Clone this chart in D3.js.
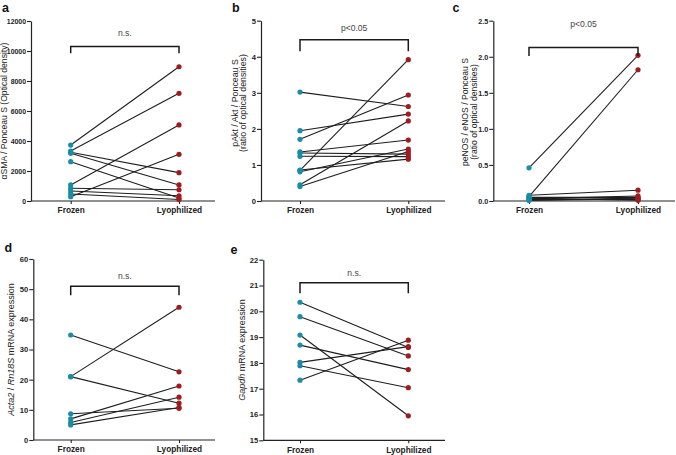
<!DOCTYPE html>
<html>
<head>
<meta charset="utf-8">
<script src="https://cdn.jsdelivr.net/npm/d3@7"></script>
<style>
  html, body { margin: 0; padding: 0; background: #fff; }
  svg { display: block; font-family: "Liberation Sans", Arial, sans-serif; }
</style>
</head>
<body>
<svg id="chart" width="676" height="455"></svg>
<script>
// ---------------- DATA ----------------
const groups = ["Frozen", "Lyophilized"];

const aFrozen = [3730, 3330, 3250, 3180, 2620, 1070, 850, 670, 470, 290];
const aLyo    = [8950, 7180, 1890, 1070, 200, 5070, 750, 350, 100, 3110];
const aTicks  = [0, 2000, 4000, 6000, 8000, 10000, 12000];

const bFrozen = [3.02, 1.95, 1.71, 0.85, 0.45, 1.36, 1.33, 1.24, 0.86, 0.81, 0.40];
const bLyo    = [2.62, 2.41, 2.94, 3.92, 2.22, 1.69, 1.30, 1.23, 1.16, 1.44, 1.37];
const bTicks  = [0, 1, 2, 3, 4, 5];

const cFrozen = [0.46, 0.06, 0.08, 0.03, 0.05, 0.01, 0.02, 0.04, 0.01];
const cLyo    = [2.02, 1.82, 0.15, 0.07, 0.05, 0.03, 0.02, 0.01, 0.04];
const cTicks  = [0, 0.5, 1.0, 1.5, 2.0, 2.5];

const dFrozen = [34.8, 21.0, 21.0, 8.7, 7.0, 5.8, 5.0];
const dLyo    = [22.6, 44.0, 12.2, 10.5, 17.9, 14.2, 10.8];
const dTicks  = [0, 10, 20, 30, 40, 50, 60];

const eFrozen = [20.35, 19.79, 19.08, 18.69, 18.02, 17.89, 17.33];
const eLyo    = [18.60, 18.27, 15.95, 17.74, 18.63, 17.04, 18.88];
const eTicks  = [15, 16, 17, 18, 19, 20, 21, 22];

const statLabels = ["n.s.", "p<0.05", "p<0.05", "n.s.", "n.s."];
const panelLetters = ["a", "b", "c", "d", "e"];

// ---------------- LAYOUT ----------------
const TEAL = "#1a8ca3";
const RED = "#9e1c1f";

const panels = [
  { letter: panelLetters[0], frozen: aFrozen, lyo: aLyo, ticks: aTicks, fmt: d3.format("d"),
    ax: 31, y0: 201, yTop: 21, xF: 70.7, xL: 179, xEnd: 215,
    br: [10300, 9850], lab: 11150, stat: statLabels[0],
    letterPos: [2, 12], tickSize: 6.9,
    title: [[{t: "αSMA / Ponceau S (Optical density)"}]], titleX: 4.6, titleY: 111, titleSize: 8.6 },
  { letter: panelLetters[1], frozen: bFrozen, lyo: bLyo, ticks: bTicks, fmt: d3.format("d"),
    ax: 261, y0: 201, yTop: 20.7, xF: 300, xL: 408.3, xEnd: 445,
    br: [4.47, 4.15], lab: 4.78, stat: statLabels[1],
    letterPos: [232, 12], tickSize: 7.6,
    title: [[{t: "pAkt / Akt / Ponceau S"}], [{t: "(ratio of optical densities)"}]],
    titleX: 240, titleY: 103, titleSize: 8.8 },
  { letter: panelLetters[2], frozen: cFrozen, lyo: cLyo, ticks: cTicks, fmt: d3.format(".1f"),
    ax: 493.3, y0: 201, yTop: 20.7, xF: 529, xL: 638, xEnd: 675,
    br: [2.13, 2.01], lab: 2.44, stat: statLabels[2],
    letterPos: [452.5, 12], tickSize: 7.2,
    title: [[{t: "peNOS / eNOS / Ponceau S"}], [{t: "(ratio of optical densities)"}]],
    titleX: 470.5, titleY: 112, titleSize: 8.6 },
  { letter: panelLetters[3], frozen: dFrozen, lyo: dLyo, ticks: dTicks, fmt: d3.format("d"),
    ax: 33.3, y0: 440, yTop: 259, xF: 70.7, xL: 179, xEnd: 215,
    br: [51, 48], lab: 54.2, stat: statLabels[3],
    letterPos: [4.5, 252], tickSize: 7.6,
    title: [[{t: "Acta2", i: true}, {t: " / "}, {t: "Rn18S", i: true}, {t: " mRNA expression"}]],
    titleX: 12, titleY: 349.5, titleSize: 9 },
  { letter: panelLetters[4], frozen: eFrozen, lyo: eLyo, ticks: eTicks, fmt: d3.format("d"),
    ax: 263.3, y0: 440.3, yTop: 259.7, xF: 300, xL: 408.3, xEnd: 445,
    br: [21.11, 20.7], lab: 21.45, stat: statLabels[4],
    letterPos: [230.5, 253.5], tickSize: 7.6,
    title: [[{t: "Gapdh", i: true}, {t: " mRNA expression"}]],
    titleX: 243, titleY: 350, titleSize: 9 }
];

const svg = d3.select("#chart");

panels.forEach(p => {
  const g = svg.append("g");
  const y = d3.scaleLinear()
    .domain([p.ticks[0], p.ticks[p.ticks.length - 1]])
    .range([p.y0, p.yTop]);
  const x = d3.scalePoint().domain(groups).range([p.xF, p.xL]);

  // y axis
  const yAxis = d3.axisLeft(y).tickValues(p.ticks).tickFormat(p.fmt)
    .tickSize(4).tickSizeOuter(0).tickPadding(1);
  const ya = g.append("g").attr("transform", `translate(${p.ax},0)`).call(yAxis);
  ya.select(".domain").attr("stroke", "#222").attr("stroke-width", 1.2);
  ya.selectAll(".tick line").attr("stroke", "#222").attr("stroke-width", 1.1);
  ya.selectAll(".tick text").attr("font-size", p.tickSize).attr("font-weight", "bold")
    .attr("fill", "#222").attr("font-family", "'Liberation Sans', Arial, sans-serif");

  // x axis
  const xAxis = d3.axisBottom(x).tickSize(3).tickSizeOuter(0).tickPadding(3.5);
  const xa = g.append("g").attr("transform", `translate(0,${p.y0})`).call(xAxis);
  xa.select(".domain").remove();
  xa.selectAll(".tick line").attr("stroke", "#222").attr("stroke-width", 1.1);
  xa.selectAll(".tick text").attr("font-size", 8.3).attr("font-weight", "bold")
    .attr("fill", "#222").attr("font-family", "'Liberation Sans', Arial, sans-serif");
  g.append("line")
    .attr("x1", p.ax).attr("x2", p.xEnd).attr("y1", p.y0).attr("y2", p.y0)
    .attr("stroke", "#222").attr("stroke-width", 1.2);

  // paired lines
  const pairs = p.frozen.map((v, i) => [v, p.lyo[i]]);
  g.append("g").selectAll("line").data(pairs).join("line")
    .attr("x1", x(groups[0])).attr("x2", x(groups[1]))
    .attr("y1", d => y(d[0])).attr("y2", d => y(d[1]))
    .attr("stroke", "#1e1e1e").attr("stroke-width", 1.1);

  // dots
  g.append("g").selectAll("circle").data(p.frozen).join("circle")
    .attr("cx", x(groups[0])).attr("cy", d => y(d)).attr("r", 2.6).attr("fill", TEAL);
  g.append("g").selectAll("circle").data(p.lyo).join("circle")
    .attr("cx", x(groups[1])).attr("cy", d => y(d)).attr("r", 2.6).attr("fill", RED);

  // bracket
  const bt = y(p.br[0]), bl = y(p.br[1]);
  g.append("path")
    .attr("d", `M${x(groups[0])},${bl}V${bt}H${x(groups[1])}V${bl}`)
    .attr("fill", "none").attr("stroke", "#1a1a1a").attr("stroke-width", 1.5);
  g.append("text")
    .attr("x", (x(groups[0]) + x(groups[1])) / 2).attr("y", y(p.lab))
    .attr("text-anchor", "middle").attr("dominant-baseline", "middle")
    .attr("font-size", 8.6).attr("fill", "#444").text(p.stat);

  // panel letter
  g.append("text").attr("x", p.letterPos[0]).attr("y", p.letterPos[1])
    .attr("font-size", 12.5).attr("font-weight", "bold").attr("fill", "#111")
    .text(p.letter);

  // y title
  const nLines = p.title.length;
  const lh = p.titleSize * 1.0;
  p.title.forEach((line, li) => {
    const tx = p.titleX - (nLines - 1) * lh / 2 + li * lh;
    const t = g.append("text")
      .attr("transform", `translate(${tx},${p.titleY}) rotate(-90)`)
      .attr("text-anchor", "middle").attr("dominant-baseline", "middle")
      .attr("font-size", p.titleSize).attr("fill", "#222");
    line.forEach(seg => {
      t.append("tspan").attr("font-style", seg.i ? "italic" : "normal").text(seg.t);
    });
  });
});
</script>
</body>
</html>
